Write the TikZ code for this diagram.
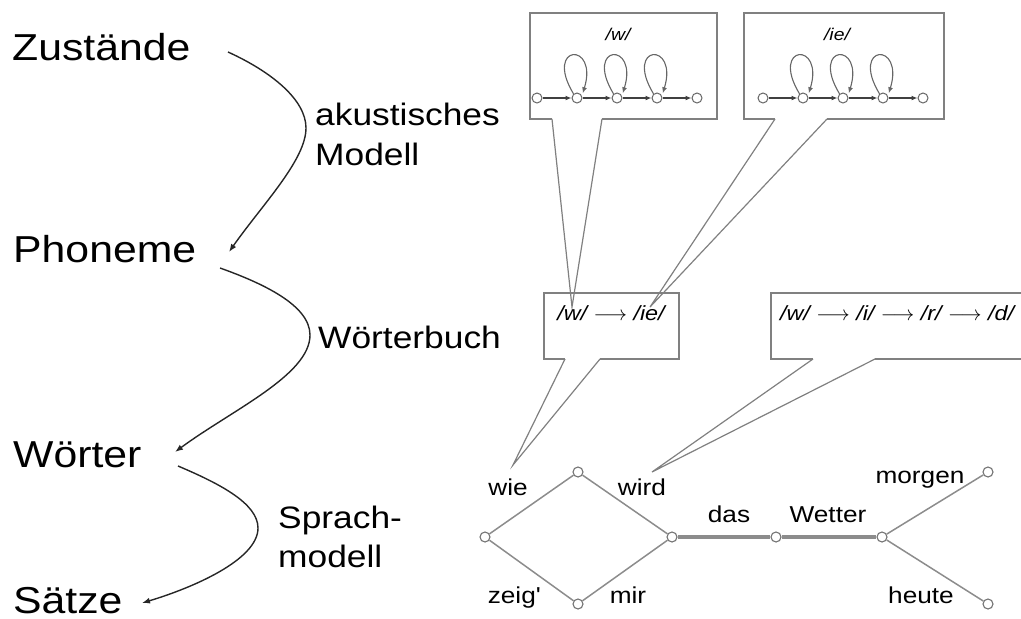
\documentclass[tikz,border=0pt]{standalone}
\usepackage{fontspec}
\setmainfont[FakeStretch=1.14]{Liberation Sans}
\usetikzlibrary{arrows.meta}
\begin{document}
\begin{tikzpicture}[x=1pt,y=-1pt,
  big/.style={font=\fontsize{37.5}{40}\selectfont, anchor=base west, inner sep=0pt},
  mid/.style={font=\fontsize{31}{34}\selectfont, anchor=base west, inner sep=0pt},
  word/.style={font=\fontsize{23}{26}\selectfont, anchor=base, inner sep=0pt},
  boxtext/.style={font=\fontsize{20.5}{24}\selectfont\itshape, inner sep=0pt},
  hmmlabel/.style={font=\fontsize{17}{20}\selectfont\itshape, inner sep=0pt},
  flow/.style={draw=black!85, line width=1.4pt, -{Latex[length=8pt,width=6pt]}},
  bubble/.style={draw=black!50, line width=2pt, line join=miter},
  tailline/.style={draw=black!50, line width=1.2pt},
  latnode/.style={circle, draw=black!55, fill=white, line width=1.1pt, minimum size=10pt, inner sep=0pt},
  latedge/.style={draw=black!45, line width=1.5pt},
  latmain/.style={draw=black!45, line width=3.5pt},
  state/.style={circle, draw=black!60, fill=white, line width=1pt, minimum size=10pt, inner sep=0pt},
  hmm/.style={draw=black!75, line width=1.2pt, -{Latex[length=6pt,width=5pt]}},
  hmmloop/.style={draw=black!60, line width=1.1pt, -{Latex[length=6pt,width=5pt]}}
]
\useasboundingbox (0,0) rectangle (1021,619);

% ---- left column ----
\node[big] (zu) at (12,60) {Zustände};
\node[big] (ph) at (13,262) {Phoneme};
\node[big] (wo) at (13,467) {Wörter};
\node[big] (sa) at (13,613) {Sätze};

\node[mid] (ak1) at (315,125) {akustisches};
\node[mid] (ak2) at (315,165) {Modell};
\node[mid] (wb) at (318,348) {Wörterbuch};
\node[mid] (sp1) at (278,528) {Sprach-};
\node[mid] (sp2) at (278,567) {modell};

\coordinate (a1s) at (228,52);
\coordinate (a1e) at (229,252);
\coordinate (a2s) at (220,268);
\coordinate (a2e) at (175,452);
\coordinate (a3s) at (178,466);
\coordinate (a3e) at (142,603);

\draw[flow] (a1s) .. controls (272,72) and (306,100) .. (306,128)
   .. controls (306,160) and (262,205) .. (a1e);
\draw[flow] (a2s) .. controls (262,283) and (310,305) .. (310,335)
   .. controls (310,375) and (232,410) .. (a2e);
\draw[flow] (a3s) .. controls (218,483) and (258,503) .. (258,528)
   .. controls (258,560) and (192,588) .. (a3e);

% ---- top HMM boxes ----
\draw[bubble] (552,119) -- (530,119) -- (530,13) -- (717,13) -- (717,119) -- (602,119);
\coordinate (t1) at (572,307);
\draw[tailline] (552,119) -- (t1) -- (602,119);

\draw[bubble] (775,119) -- (744,119) -- (744,13) -- (944,13) -- (944,119) -- (827,119);
\coordinate (t2) at (650,307);
\draw[tailline] (775,119) -- (t2) -- (827,119);

\node[hmmlabel] (lw) at (618,34) {/w/};
\node[hmmlabel] (lie) at (837,34) {/ie/};

\foreach \i/\x in {1/537,2/577,3/617,4/657,5/697}
  \node[state] (a\i) at (\x,98) {};
\foreach \i/\x in {1/763,2/803,3/843,4/883,5/923}
  \node[state] (b\i) at (\x,98) {};
\foreach \p in {a,b}{
  \draw[hmm] (\p1) -- (\p2);
  \draw[hmm] (\p2) -- (\p3);
  \draw[hmm] (\p3) -- (\p4);
  \draw[hmm] (\p4) -- (\p5);
  \foreach \k in {2,3,4}
    \draw[hmmloop] (\p\k.130) .. controls +(-30,-50) and +(16,-52) .. ([xshift=3pt]\p\k.60);
}

% ---- middle boxes ----
\draw[bubble] (565,359) -- (544,359) -- (544,293) -- (679,293) -- (679,359) -- (600,359);
\coordinate (t3) at (513,465);
\draw[tailline] (565,359) -- (t3) -- (600,359);
\node[boxtext] (bx1) at (611,313) {/w/ $\longrightarrow$ /ie/};

\draw[bubble] (813,359) -- (771,359) -- (771,293) -- (1021,293);
\draw[bubble] (875,359) -- (1021,359);
\coordinate (t4) at (652,472);
\draw[tailline] (813,359) -- (t4) -- (875,359);
\node[boxtext] (bx2) at (897,313) {/w/ $\longrightarrow$ /i/ $\longrightarrow$ /r/ $\longrightarrow$ /d/};

% ---- word lattice ----
\node[latnode] (nL) at (485,537) {};
\node[latnode] (nT) at (578,472) {};
\node[latnode] (nB) at (578,604) {};
\node[latnode] (nM) at (672,537) {};
\node[latnode] (nD) at (776,537) {};
\node[latnode] (nR) at (882,537) {};
\node[latnode] (nMo) at (988,472) {};
\node[latnode] (nH) at (988,604) {};

\draw[latedge] (nL) -- (nT);
\draw[latedge] (nL) -- (nB);
\draw[latedge] (nT) -- (nM);
\draw[latedge] (nB) -- (nM);
\draw[latmain] (nM) -- (nD);
\draw[latmain] (nD) -- (nR);
\draw[latedge] (nR) -- (nMo);
\draw[latedge] (nR) -- (nH);

\node[word] (wwie) at (508,495) {wie};
\node[word] (wwird) at (642,495) {wird};
\node[word] (wdas) at (729,522) {das};
\node[word] (wwet) at (828,522) {Wetter};
\node[word] (wmor) at (920,483) {morgen};
\node[word] (wzei) at (514,603) {zeig\textquotesingle};
\node[word] (wmir) at (628,603) {mir};
\node[word] (whe) at (921,603) {heute};
\end{tikzpicture}
\end{document}
